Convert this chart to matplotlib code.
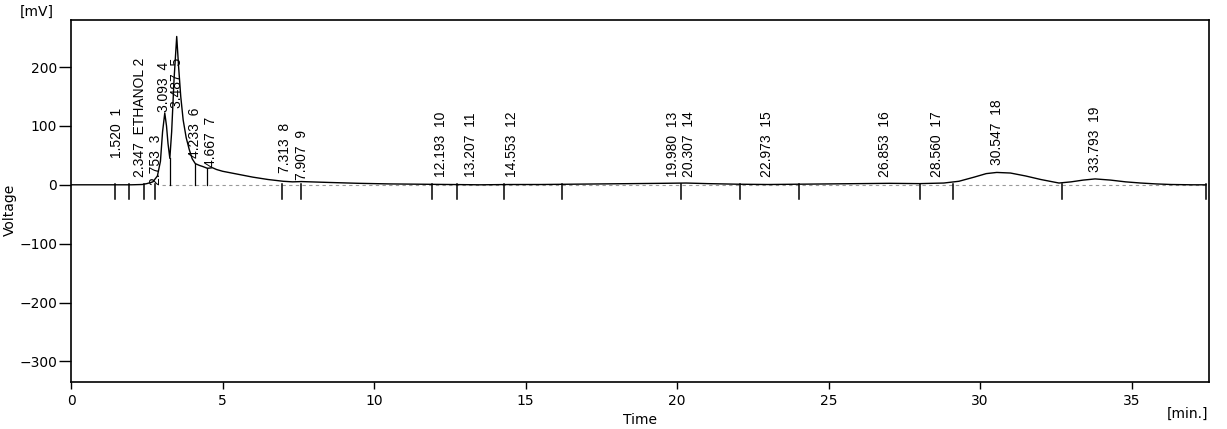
import numpy as np
from matplotlib import pyplot as plt
from matplotlib import font_manager

# chromatogram trace (time in min, signal in mV)
trace_t = [0.0, 1.0, 1.5, 2.0, 2.35, 2.5, 2.7, 2.85, 2.95, 3.02, 3.093, 3.15, 3.2, 3.26,
           3.32, 3.40, 3.487, 3.55, 3.62, 3.7, 3.8, 3.9, 4.0, 4.1, 4.233, 4.35, 4.5,
           4.667, 4.8, 5.0, 5.5, 6.0, 6.5, 7.0, 7.313, 7.6, 7.907, 8.5, 9.5, 10.5, 11.5,
           12.5, 13.5, 14.5, 15.5, 16.5, 17.5, 18.5, 19.5, 20.3, 21.0, 22.0, 23.0, 24.0,
           25.0, 26.0, 27.0, 28.0, 28.8, 29.3, 29.8, 30.2, 30.547, 31.0, 31.5, 32.0, 32.6,
           33.0, 33.4, 33.793, 34.3, 34.8, 35.3, 35.8, 36.3, 37.0, 37.45]
trace_v = [0.0, 0.0, 0.0, 0.0, 0.5, 2, 5, 15, 40, 90, 122, 100, 70, 45,
           90, 180, 252, 200, 150, 110, 80, 60, 44, 36, 33, 31, 28,
           29, 26, 23, 18, 13, 9, 6, 5, 5.5, 5, 4, 2.5, 1.5, 1,
           0.5, 0, 0.5, 0.5, 1, 1.5, 2, 2.5, 3, 2, 1, 0.5, 1,
           1.5, 2, 2.5, 2, 3, 6, 13, 19, 21, 20, 15, 9, 3,
           5, 8, 10, 8, 5, 3, 1.5, 0.5, 0, 0]

# peak table
peak_rt = [1.520, 2.347, 2.753, 3.093, 3.487, 4.233, 4.667, 7.313, 7.907, 12.193,
           13.207, 14.553, 19.980, 20.307, 22.973, 26.853, 28.560, 30.547, 33.793]
peak_no = list(range(1, 20))
peak_name = {2: "ETHANOL"}

# integration boundaries
bound_t = [1.45, 1.91, 2.41, 2.77, 6.96, 7.59, 11.91, 12.74, 14.29, 16.2, 20.13,
           22.08, 24.03, 28.02, 29.1, 32.7, 37.46]
drop_t = [3.26, 4.1, 4.5]

# bottom of each label (mV) and small x shifts so the crowded ones stay readable
label_y = [45, 13, 0, 123, 130, 46, 31, 20, 8, 14, 14, 14, 14, 14, 14, 14, 14, 34, 22]
label_dx = [0, -0.06, 0.04, -0.04, 0.0, -0.14, -0.04, -0.25, -0.28, 0, 0, 0,
            -0.12, 0.1, 0, 0, 0, 0, 0]

names = {f.name for f in font_manager.fontManager.ttflist}
narrow = "Liberation Sans Narrow" if "Liberation Sans Narrow" in names else "Liberation Sans"

fig = plt.figure(figsize=(12.27, 4.29), dpi=100)
ax = fig.add_axes([0.0579, 0.1096, 0.9274, 0.8438])

ax.plot([3.0, 37.45], [0, 0], color="#9a9a9a", lw=0.8, ls=(0, (3, 3)))
ax.plot(trace_t, trace_v, color="black", lw=1.0)

for t in bound_t:
    ax.plot([t, t], [2, -24], color="black", lw=1.1)
for t in drop_t:
    ax.plot([t, t], [np.interp(t, trace_t, trace_v), 0], color="black", lw=0.9)

for rt, n, ly, dx in zip(peak_rt, peak_no, label_y, label_dx):
    txt = "%.3f  %s %d" % (rt, peak_name[n], n) if n in peak_name else "%.3f  %d" % (rt, n)
    ax.text(rt + dx, ly, txt, rotation=90, ha="center", va="bottom",
            family=[narrow, "DejaVu Sans"], fontsize=10)

ax.set_xlim(0, 37.55)
ax.set_ylim(-335, 280)
ax.set_xticks([0, 5, 10, 15, 20, 25, 30, 35])
ax.set_yticks([-300, -200, -100, 0, 100, 200])
ax.tick_params(axis="y", direction="out", length=9, width=1, labelsize=10, pad=1)
ax.tick_params(axis="x", direction="out", length=5, width=1, labelsize=10, pad=4)
for s in ax.spines.values():
    s.set_linewidth(1.2)

fig.text(0.016, 0.955, "[mV]", fontsize=10, va="bottom")
fig.text(0.008, 0.51, "Voltage", rotation=90, fontsize=10, ha="center", va="center")
fig.text(0.522, 0.005, "Time", fontsize=10, ha="center", va="bottom")
fig.text(0.968, 0.02, "[min.]", fontsize=10, ha="center", va="bottom")

fig.savefig("out.png", dpi=100, facecolor="white")
